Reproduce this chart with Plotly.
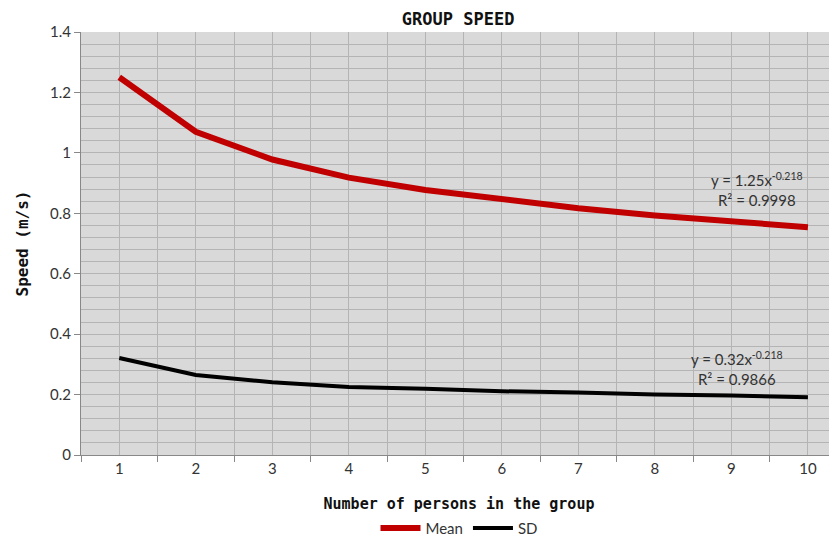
import plotly.graph_objects as go

# group size and measured speeds (m/s)
persons = [1, 2, 3, 4, 5, 6, 7, 8, 9, 10]
mean_speed = [1.25, 1.07, 0.978, 0.918, 0.877, 0.845, 0.817, 0.793, 0.772, 0.754]
sd_speed = [0.321, 0.265, 0.241, 0.225, 0.219, 0.211, 0.207, 0.200, 0.197, 0.191]

TICK_FONT = dict(family="Lato, Open Sans, sans-serif", size=15, color="#333333")
MONO_BOLD = "DejaVu Sans Mono, monospace"
GRID = "#b4b4b4"

fig = go.Figure()
fig.add_trace(go.Scatter(
    x=persons, y=mean_speed, mode="lines", name="Mean",
    line=dict(color="#c00000", width=6),
))
fig.add_trace(go.Scatter(
    x=persons, y=sd_speed, mode="lines", name="SD",
    line=dict(color="#000000", width=4),
))

fig.add_annotation(x=9.33, y=0.878, xref="x", yref="y", showarrow=False,
                   text="y = 1.25x<sup>-0.218</sup><br>R² = 0.9998",
                   font=dict(family="Lato, Open Sans, sans-serif", size=15, color="#333333"))
fig.add_annotation(x=9.07, y=0.287, xref="x", yref="y", showarrow=False,
                   text="y = 0.32x<sup>-0.218</sup><br>R² = 0.9866",
                   font=dict(family="Lato, Open Sans, sans-serif", size=15, color="#333333"))

# page body has an 8px margin, so the figure is sized to fit the window
fig.update_layout(
    width=829, height=530,
    paper_bgcolor="white",
    plot_bgcolor="#d9d9d9",
    margin=dict(l=73, r=0, t=24, b=83, autoexpand=False),
    title=dict(text="<b>GROUP SPEED</b>", x=0.543, xanchor="center", y=0.979, yanchor="middle",
               font=dict(family=MONO_BOLD, size=17, color="#111111")),
    xaxis=dict(
        range=[0.5, 10.38],
        tickvals=persons,
        ticktext=[str(p) for p in persons],
        tickfont=TICK_FONT,
        showgrid=True, gridcolor=GRID, gridwidth=1,
        ticks="", showline=True, linecolor="#888888",
        minor=dict(tick0=0.5, dtick=1, showgrid=True, gridcolor=GRID,
                   ticks="outside", ticklen=6, tickcolor="#888888"),
        zeroline=False, automargin=False,
        title=dict(text="<b>Number of persons in the group</b>", standoff=22,
                   font=dict(family=MONO_BOLD, size=15, color="#111111")),
    ),
    yaxis=dict(
        range=[0, 1.4],
        dtick=0.2,
        tickformat="~g",
        tickfont=TICK_FONT,
        showgrid=True, gridcolor=GRID, gridwidth=1,
        ticks="outside", ticklen=6, tickcolor="#888888",
        showline=True, linecolor="#888888",
        minor=dict(dtick=0.04, showgrid=True, gridcolor=GRID),
        zeroline=False, automargin=False,
        title=dict(text="<b>Speed (m/s)</b>", standoff=17,
                   font=dict(family=MONO_BOLD, size=16, color="#111111")),
    ),
    legend=dict(orientation="h", x=0.5, xanchor="center", y=-0.173, yanchor="middle",
                font=dict(family="Lato, Open Sans, sans-serif", size=15, color="#333333"),
                itemwidth=40, traceorder="normal"),
    showlegend=True,
)

fig.write_html("out.html")
